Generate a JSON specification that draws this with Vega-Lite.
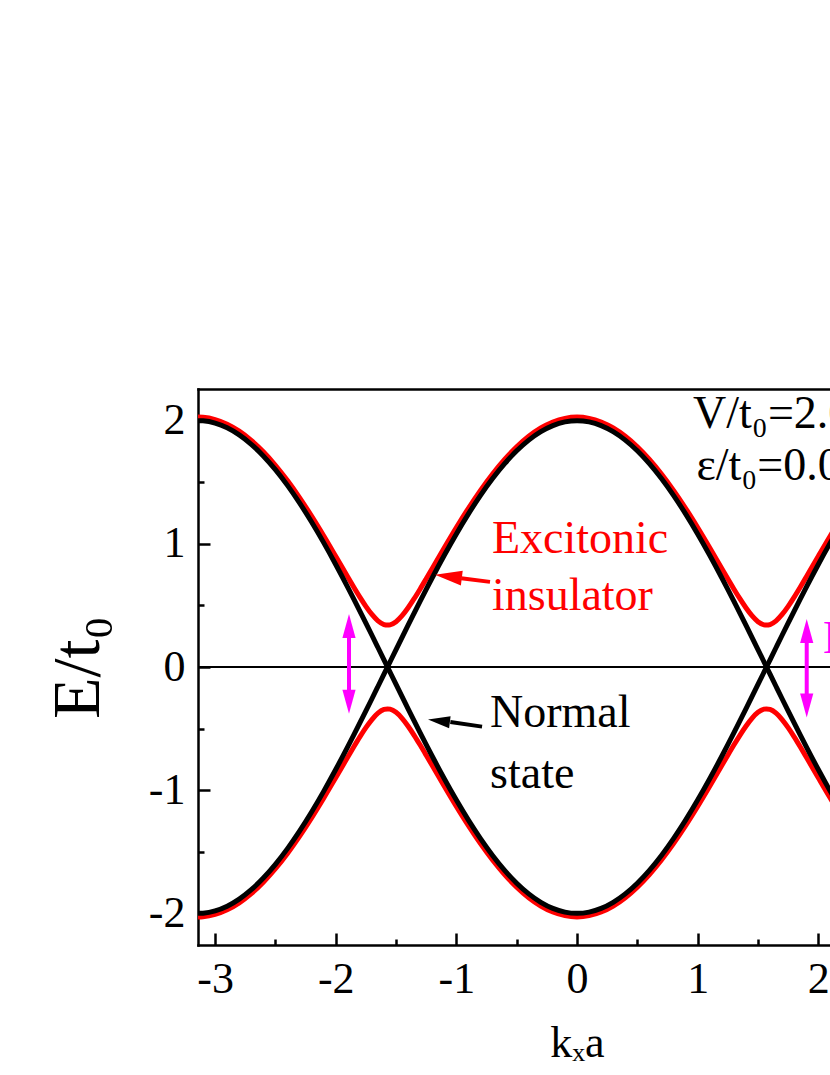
{
  "$schema": "https://vega.github.io/schema/vega-lite/v6.json",
  "width": 632,
  "height": 556,
  "autosize": {"type": "none"},
  "padding": {"left": 198, "top": 389, "right": 0, "bottom": 130},
  "background": "white",
  "config": {
    "view": {"stroke": null},
    "font": "Liberation Serif",
    "axis": {
      "grid": false,
      "domainColor": "black",
      "domainWidth": 2.5,
      "domainCap": "square",
      "tickColor": "black",
      "tickWidth": 2.5,
      "labelColor": "black",
      "labelFont": "Liberation Serif",
      "labelFontSize": 44,
      "titleFont": "Liberation Serif",
      "titleColor": "black",
      "titleFontWeight": "normal"
    }
  },
  "datasets": {
    "bands": [
      {"k": -3.1416, "n1": -2.0000, "n2": 2.0000, "e1": 2.0287, "e2": -2.0287},
      {"k": -3.1, "n1": -1.9983, "n2": 1.9983, "e1": 2.0270, "e2": -2.0270},
      {"k": -3.0, "n1": -1.9800, "n2": 1.9800, "e1": 2.0090, "e2": -2.0090},
      {"k": -2.9, "n1": -1.9419, "n2": 1.9419, "e1": 1.9715, "e2": -1.9715},
      {"k": -2.8, "n1": -1.8844, "n2": 1.8844, "e1": 1.9149, "e2": -1.9149},
      {"k": -2.7, "n1": -1.8081, "n2": 1.8081, "e1": 1.8398, "e2": -1.8398},
      {"k": -2.6, "n1": -1.7138, "n2": 1.7138, "e1": 1.7472, "e2": -1.7472},
      {"k": -2.5, "n1": -1.6023, "n2": 1.6023, "e1": 1.6380, "e2": -1.6380},
      {"k": -2.4, "n1": -1.4748, "n2": 1.4748, "e1": 1.5135, "e2": -1.5135},
      {"k": -2.3, "n1": -1.3326, "n2": 1.3326, "e1": 1.3752, "e2": -1.3752},
      {"k": -2.2, "n1": -1.1770, "n2": 1.1770, "e1": 1.2251, "e2": -1.2251},
      {"k": -2.1, "n1": -1.0097, "n2": 1.0097, "e1": 1.0654, "e2": -1.0654},
      {"k": -2.0, "n1": -0.8323, "n2": 0.8323, "e1": 0.8991, "e2": -0.8991},
      {"k": -1.9, "n1": -0.6466, "n2": 0.6466, "e1": 0.7305, "e2": -0.7305},
      {"k": -1.85, "n1": -0.5512, "n2": 0.5512, "e1": 0.6476, "e2": -0.6476},
      {"k": -1.8, "n1": -0.4544, "n2": 0.4544, "e1": 0.5675, "e2": -0.5675},
      {"k": -1.75, "n1": -0.3565, "n2": 0.3565, "e1": 0.4926, "e2": -0.4926},
      {"k": -1.7, "n1": -0.2577, "n2": 0.2577, "e1": 0.4266, "e2": -0.4266},
      {"k": -1.65, "n1": -0.1582, "n2": 0.1582, "e1": 0.3750, "e2": -0.3750},
      {"k": -1.6, "n1": -0.0584, "n2": 0.0584, "e1": 0.3450, "e2": -0.3450},
      {"k": -1.5708, "n1": 0.0, "n2": 0.0, "e1": 0.3400, "e2": -0.3400},
      {"k": -1.55, "n1": 0.0416, "n2": -0.0416, "e1": 0.3425, "e2": -0.3425},
      {"k": -1.5, "n1": 0.1415, "n2": -0.1415, "e1": 0.3683, "e2": -0.3683},
      {"k": -1.45, "n1": 0.2410, "n2": -0.2410, "e1": 0.4167, "e2": -0.4167},
      {"k": -1.4, "n1": 0.3399, "n2": -0.3399, "e1": 0.4808, "e2": -0.4808},
      {"k": -1.35, "n1": 0.4380, "n2": -0.4380, "e1": 0.5545, "e2": -0.5545},
      {"k": -1.3, "n1": 0.5350, "n2": -0.5350, "e1": 0.6339, "e2": -0.6339},
      {"k": -1.25, "n1": 0.6306, "n2": -0.6306, "e1": 0.7165, "e2": -0.7165},
      {"k": -1.2, "n1": 0.7247, "n2": -0.7247, "e1": 0.8005, "e2": -0.8005},
      {"k": -1.1, "n1": 0.9072, "n2": -0.9072, "e1": 0.9688, "e2": -0.9688},
      {"k": -1.0, "n1": 1.0806, "n2": -1.0806, "e1": 1.1328, "e2": -1.1328},
      {"k": -0.9, "n1": 1.2432, "n2": -1.2432, "e1": 1.2889, "e2": -1.2889},
      {"k": -0.8, "n1": 1.3934, "n2": -1.3934, "e1": 1.4343, "e2": -1.4343},
      {"k": -0.7, "n1": 1.5297, "n2": -1.5297, "e1": 1.5670, "e2": -1.5670},
      {"k": -0.6, "n1": 1.6507, "n2": -1.6507, "e1": 1.6853, "e2": -1.6853},
      {"k": -0.5, "n1": 1.7552, "n2": -1.7552, "e1": 1.7878, "e2": -1.7878},
      {"k": -0.4, "n1": 1.8421, "n2": -1.8421, "e1": 1.8732, "e2": -1.8732},
      {"k": -0.3, "n1": 1.9107, "n2": -1.9107, "e1": 1.9407, "e2": -1.9407},
      {"k": -0.2, "n1": 1.9601, "n2": -1.9601, "e1": 1.9894, "e2": -1.9894},
      {"k": -0.1, "n1": 1.9900, "n2": -1.9900, "e1": 2.0188, "e2": -2.0188},
      {"k": 0.0, "n1": 2.0000, "n2": -2.0000, "e1": 2.0287, "e2": -2.0287},
      {"k": 0.1, "n1": 1.9900, "n2": -1.9900, "e1": 2.0188, "e2": -2.0188},
      {"k": 0.2, "n1": 1.9601, "n2": -1.9601, "e1": 1.9894, "e2": -1.9894},
      {"k": 0.3, "n1": 1.9107, "n2": -1.9107, "e1": 1.9407, "e2": -1.9407},
      {"k": 0.4, "n1": 1.8421, "n2": -1.8421, "e1": 1.8732, "e2": -1.8732},
      {"k": 0.5, "n1": 1.7552, "n2": -1.7552, "e1": 1.7878, "e2": -1.7878},
      {"k": 0.6, "n1": 1.6507, "n2": -1.6507, "e1": 1.6853, "e2": -1.6853},
      {"k": 0.7, "n1": 1.5297, "n2": -1.5297, "e1": 1.5670, "e2": -1.5670},
      {"k": 0.8, "n1": 1.3934, "n2": -1.3934, "e1": 1.4343, "e2": -1.4343},
      {"k": 0.9, "n1": 1.2432, "n2": -1.2432, "e1": 1.2889, "e2": -1.2889},
      {"k": 1.0, "n1": 1.0806, "n2": -1.0806, "e1": 1.1328, "e2": -1.1328},
      {"k": 1.1, "n1": 0.9072, "n2": -0.9072, "e1": 0.9688, "e2": -0.9688},
      {"k": 1.2, "n1": 0.7247, "n2": -0.7247, "e1": 0.8005, "e2": -0.8005},
      {"k": 1.25, "n1": 0.6306, "n2": -0.6306, "e1": 0.7165, "e2": -0.7165},
      {"k": 1.3, "n1": 0.5350, "n2": -0.5350, "e1": 0.6339, "e2": -0.6339},
      {"k": 1.35, "n1": 0.4380, "n2": -0.4380, "e1": 0.5545, "e2": -0.5545},
      {"k": 1.4, "n1": 0.3399, "n2": -0.3399, "e1": 0.4808, "e2": -0.4808},
      {"k": 1.45, "n1": 0.2410, "n2": -0.2410, "e1": 0.4167, "e2": -0.4167},
      {"k": 1.5, "n1": 0.1415, "n2": -0.1415, "e1": 0.3683, "e2": -0.3683},
      {"k": 1.55, "n1": 0.0416, "n2": -0.0416, "e1": 0.3425, "e2": -0.3425},
      {"k": 1.5708, "n1": 0.0, "n2": 0.0, "e1": 0.3400, "e2": -0.3400},
      {"k": 1.6, "n1": -0.0584, "n2": 0.0584, "e1": 0.3450, "e2": -0.3450},
      {"k": 1.65, "n1": -0.1582, "n2": 0.1582, "e1": 0.3750, "e2": -0.3750},
      {"k": 1.7, "n1": -0.2577, "n2": 0.2577, "e1": 0.4266, "e2": -0.4266},
      {"k": 1.75, "n1": -0.3565, "n2": 0.3565, "e1": 0.4926, "e2": -0.4926},
      {"k": 1.8, "n1": -0.4544, "n2": 0.4544, "e1": 0.5675, "e2": -0.5675},
      {"k": 1.85, "n1": -0.5512, "n2": 0.5512, "e1": 0.6476, "e2": -0.6476},
      {"k": 1.9, "n1": -0.6466, "n2": 0.6466, "e1": 0.7305, "e2": -0.7305},
      {"k": 2.0, "n1": -0.8323, "n2": 0.8323, "e1": 0.8991, "e2": -0.8991},
      {"k": 2.1, "n1": -1.0097, "n2": 1.0097, "e1": 1.0654, "e2": -1.0654},
      {"k": 2.2, "n1": -1.1770, "n2": 1.1770, "e1": 1.2251, "e2": -1.2251}
    ],
    "redText": [
      {"x": -0.705, "y": 0.927, "label": "Excitonic"},
      {"x": -0.705, "y": 0.465, "label": "insulator"}
    ],
    "blackText": [
      {"x": -0.721, "y": -0.49, "label": "Normal"},
      {"x": -0.721, "y": -0.98, "label": "state"}
    ],
    "paramText": [
      {"x": 0.962, "y": 1.94, "label": "V/t₀=2.0"},
      {"x": 0.99, "y": 1.519, "label": "ε/t₀=0.0"}
    ],
    "magText": [
      {"x": 2.04, "y": 0.116, "label": "Eg"}
    ],
    "redArrow": [
      {"tx": -0.721, "ty": 0.691, "bx": -0.96, "by": 0.72, "hx": -1.177, "hy": 0.749}
    ],
    "blackArrow": [
      {"tx": -0.787, "ty": -0.484, "bx": -1.05, "by": -0.447, "hx": -1.235, "hy": -0.427}
    ],
    "gapArrows": [
      {"x": -1.89, "top": 0.43, "bot": -0.38, "st": 0.25, "sb": -0.2},
      {"x": 1.904, "top": 0.39, "bot": -0.41, "st": 0.21, "sb": -0.23}
    ]
  },
  "layer": [
    {
      "data": {"values": [{"y": 0}]},
      "mark": {"type": "rule", "color": "black", "strokeWidth": 2},
      "encoding": {
        "y": {"field": "y", "type": "quantitative", "scale": {"domain": [-2.257, 2.257], "nice": false, "zero": false}, "axis": null}
      }
    },
    {
      "data": {"name": "bands"},
      "mark": {"type": "line", "color": "#ff0000", "strokeWidth": 5, "interpolate": "monotone", "clip": true},
      "encoding": {
        "x": {"field": "k", "type": "quantitative", "scale": {"domain": [-3.1416, 2.097], "nice": false, "zero": false},
          "axis": {"orient": "bottom", "values": [-3, -2, -1, 0, 1, 2], "tickSize": -12, "labelPadding": 24,
            "labelExpr": "datum.value < 0 ? '-' + abs(datum.value) : '' + datum.value",
            "title": "kₓa", "titleFontSize": 44, "titleX": 379, "titleY": 111, "titleAlign": "center", "titleBaseline": "alphabetic"}},
        "y": {"field": "e1", "type": "quantitative", "scale": {"domain": [-2.257, 2.257], "nice": false, "zero": false},
          "axis": {"orient": "left", "values": [-2, -1, 0, 1, 2], "tickSize": -12, "labelPadding": 25,
            "labelExpr": "datum.value < 0 ? '-' + abs(datum.value) : '' + datum.value",
            "title": "E/t₀", "titleFontSize": 68, "titleAngle": -90, "titleX": -100, "titleY": 278, "titleAlign": "center", "titleBaseline": "alphabetic"}}
      }
    },
    {
      "data": {"name": "bands"},
      "mark": {"type": "line", "color": "#ff0000", "strokeWidth": 5, "interpolate": "monotone", "clip": true},
      "encoding": {
        "x": {"field": "k", "type": "quantitative", "scale": {"domain": [-3.1416, 2.097], "nice": false, "zero": false},
          "axis": {"orient": "bottom", "values": [-2.5, -1.5, -0.5, 0.5, 1.5], "tickSize": -6, "labels": false, "domain": false, "title": null}},
        "y": {"field": "e2", "type": "quantitative", "scale": {"domain": [-2.257, 2.257], "nice": false, "zero": false},
          "axis": {"orient": "left", "values": [-1.5, -0.5, 0.5, 1.5], "tickSize": -6, "labels": false, "domain": false, "title": null}}
      }
    },
    {
      "data": {"name": "bands"},
      "mark": {"type": "line", "color": "black", "strokeWidth": 5, "interpolate": "monotone", "clip": true},
      "encoding": {
        "x": {"field": "k", "type": "quantitative", "scale": {"domain": [-3.1416, 2.097], "nice": false, "zero": false},
          "axis": {"orient": "top", "ticks": false, "labels": false, "domain": true, "title": null}},
        "y": {"field": "n1", "type": "quantitative", "scale": {"domain": [-2.257, 2.257], "nice": false, "zero": false}, "axis": null}
      }
    },
    {
      "data": {"name": "bands"},
      "mark": {"type": "line", "color": "black", "strokeWidth": 5, "interpolate": "monotone", "clip": true},
      "encoding": {
        "x": {"field": "k", "type": "quantitative", "scale": {"domain": [-3.1416, 2.097], "nice": false, "zero": false}, "axis": null},
        "y": {"field": "n2", "type": "quantitative", "scale": {"domain": [-2.257, 2.257], "nice": false, "zero": false}, "axis": null}
      }
    },
    {
      "data": {"name": "redArrow"},
      "mark": {"type": "rule", "color": "#ff0000", "strokeWidth": 4},
      "encoding": {
        "x": {"field": "tx", "type": "quantitative", "scale": {"domain": [-3.1416, 2.097], "nice": false, "zero": false}, "axis": null},
        "y": {"field": "ty", "type": "quantitative", "scale": {"domain": [-2.257, 2.257], "nice": false, "zero": false}, "axis": null},
        "x2": {"field": "bx"},
        "y2": {"field": "by"}
      }
    },
    {
      "data": {"name": "redArrow"},
      "mark": {"type": "point", "shape": "M0,0L2,-0.55L2,0.55Z", "size": 729, "filled": true, "color": "#ff0000", "opacity": 1, "strokeWidth": 0, "angle": 7},
      "encoding": {
        "x": {"field": "hx", "type": "quantitative", "scale": {"domain": [-3.1416, 2.097], "nice": false, "zero": false}, "axis": null},
        "y": {"field": "hy", "type": "quantitative", "scale": {"domain": [-2.257, 2.257], "nice": false, "zero": false}, "axis": null}
      }
    },
    {
      "data": {"name": "blackArrow"},
      "mark": {"type": "rule", "color": "black", "strokeWidth": 4},
      "encoding": {
        "x": {"field": "tx", "type": "quantitative", "scale": {"domain": [-3.1416, 2.097], "nice": false, "zero": false}, "axis": null},
        "y": {"field": "ty", "type": "quantitative", "scale": {"domain": [-2.257, 2.257], "nice": false, "zero": false}, "axis": null},
        "x2": {"field": "bx"},
        "y2": {"field": "by"}
      }
    },
    {
      "data": {"name": "blackArrow"},
      "mark": {"type": "point", "shape": "M0,0L2,-0.55L2,0.55Z", "size": 484, "filled": true, "color": "black", "opacity": 1, "strokeWidth": 0, "angle": 7},
      "encoding": {
        "x": {"field": "hx", "type": "quantitative", "scale": {"domain": [-3.1416, 2.097], "nice": false, "zero": false}, "axis": null},
        "y": {"field": "hy", "type": "quantitative", "scale": {"domain": [-2.257, 2.257], "nice": false, "zero": false}, "axis": null}
      }
    },
    {
      "data": {"name": "gapArrows"},
      "mark": {"type": "rule", "color": "#ff00ff", "strokeWidth": 4},
      "encoding": {
        "x": {"field": "x", "type": "quantitative", "scale": {"domain": [-3.1416, 2.097], "nice": false, "zero": false}, "axis": null},
        "y": {"field": "st", "type": "quantitative", "scale": {"domain": [-2.257, 2.257], "nice": false, "zero": false}, "axis": null},
        "y2": {"field": "sb"}
      }
    },
    {
      "data": {"name": "gapArrows"},
      "mark": {"type": "point", "shape": "M0,0L-0.55,2L0.55,2Z", "size": 576, "filled": true, "color": "#ff00ff", "opacity": 1, "strokeWidth": 0},
      "encoding": {
        "x": {"field": "x", "type": "quantitative", "scale": {"domain": [-3.1416, 2.097], "nice": false, "zero": false}, "axis": null},
        "y": {"field": "top", "type": "quantitative", "scale": {"domain": [-2.257, 2.257], "nice": false, "zero": false}, "axis": null}
      }
    },
    {
      "data": {"name": "gapArrows"},
      "mark": {"type": "point", "shape": "M0,0L-0.55,-2L0.55,-2Z", "size": 576, "filled": true, "color": "#ff00ff", "opacity": 1, "strokeWidth": 0},
      "encoding": {
        "x": {"field": "x", "type": "quantitative", "scale": {"domain": [-3.1416, 2.097], "nice": false, "zero": false}, "axis": null},
        "y": {"field": "bot", "type": "quantitative", "scale": {"domain": [-2.257, 2.257], "nice": false, "zero": false}, "axis": null}
      }
    },
    {
      "data": {"name": "redText"},
      "mark": {"type": "text", "color": "#ff0000", "font": "Liberation Serif", "fontSize": 46, "align": "left", "baseline": "alphabetic"},
      "encoding": {
        "x": {"field": "x", "type": "quantitative", "scale": {"domain": [-3.1416, 2.097], "nice": false, "zero": false}, "axis": null},
        "y": {"field": "y", "type": "quantitative", "scale": {"domain": [-2.257, 2.257], "nice": false, "zero": false}, "axis": null},
        "text": {"field": "label"}
      }
    },
    {
      "data": {"name": "blackText"},
      "mark": {"type": "text", "color": "black", "font": "Liberation Serif", "fontSize": 46, "align": "left", "baseline": "alphabetic"},
      "encoding": {
        "x": {"field": "x", "type": "quantitative", "scale": {"domain": [-3.1416, 2.097], "nice": false, "zero": false}, "axis": null},
        "y": {"field": "y", "type": "quantitative", "scale": {"domain": [-2.257, 2.257], "nice": false, "zero": false}, "axis": null},
        "text": {"field": "label"}
      }
    },
    {
      "data": {"name": "paramText"},
      "mark": {"type": "text", "color": "black", "font": "Liberation Serif", "fontSize": 46, "align": "left", "baseline": "alphabetic"},
      "encoding": {
        "x": {"field": "x", "type": "quantitative", "scale": {"domain": [-3.1416, 2.097], "nice": false, "zero": false}, "axis": null},
        "y": {"field": "y", "type": "quantitative", "scale": {"domain": [-2.257, 2.257], "nice": false, "zero": false}, "axis": null},
        "text": {"field": "label"}
      }
    },
    {
      "data": {"name": "magText"},
      "mark": {"type": "text", "color": "#ff00ff", "font": "Liberation Serif", "fontSize": 46, "align": "left", "baseline": "alphabetic"},
      "encoding": {
        "x": {"field": "x", "type": "quantitative", "scale": {"domain": [-3.1416, 2.097], "nice": false, "zero": false}, "axis": null},
        "y": {"field": "y", "type": "quantitative", "scale": {"domain": [-2.257, 2.257], "nice": false, "zero": false}, "axis": null},
        "text": {"field": "label"}
      }
    }
  ],
  "resolve": {"axis": {"x": "independent", "y": "independent"}}
}
